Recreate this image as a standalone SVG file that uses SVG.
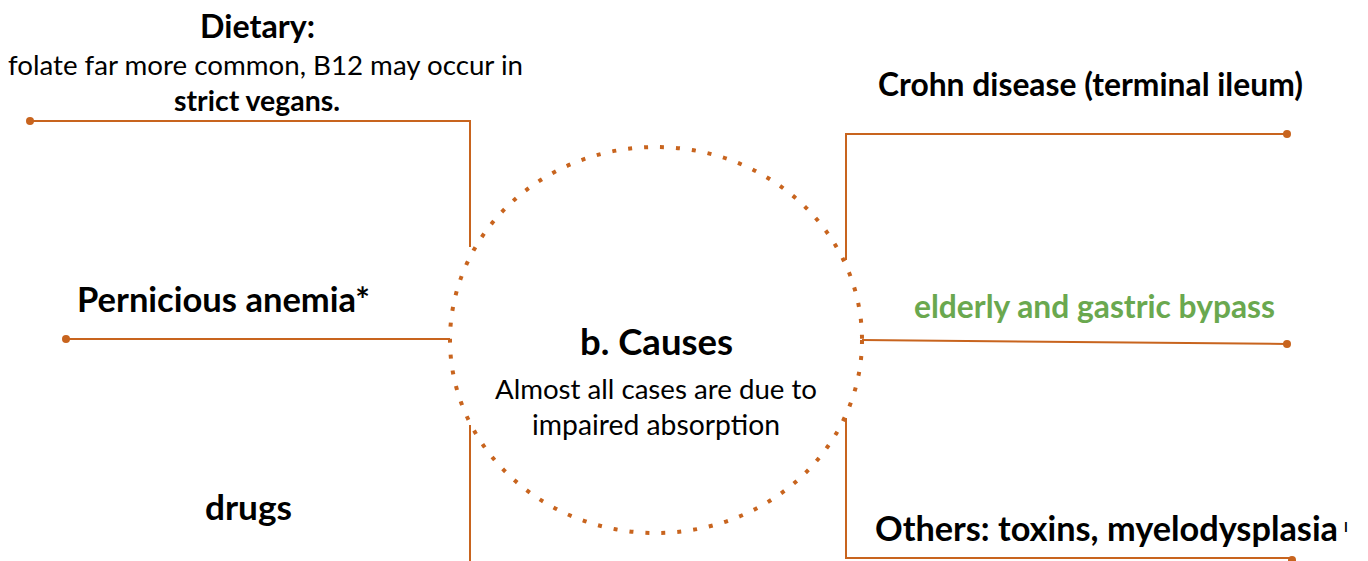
<svg xmlns="http://www.w3.org/2000/svg" width="1368" height="561" viewBox="0 0 1368 561">
<style>
.ln{fill:none;stroke:#c8641e;stroke-width:2}
.dot{fill:#c8641e}
.b{font-family:Lato,"Liberation Sans",sans-serif;font-weight:bold;fill:#000}
.r{font-family:Lato,"Liberation Sans",sans-serif;fill:#000}
</style>
<rect width="1368" height="561" fill="#fff"/>
<g id="connectors">
<path class="ln" d="M30,121 H470 V247"/>
<circle class="dot" cx="30" cy="121" r="4"/>
<path class="ln" d="M66,339 H450"/>
<circle class="dot" cx="66" cy="339" r="4"/>
<path class="ln" d="M470,425 V565 H31"/>
<circle class="dot" cx="31" cy="566" r="4"/>
<path class="ln" d="M1287,134 H846 V260"/>
<circle class="dot" cx="1287" cy="134" r="4"/>
<path class="ln" d="M862,340 L1287,344"/>
<circle class="dot" cx="1287" cy="344" r="4"/>
<path class="ln" d="M846,418 V558 H1292"/>
<circle class="dot" cx="1292" cy="560" r="4"/>
</g>
<g id="center">
<ellipse cx="656" cy="340" rx="206" ry="193" fill="none" stroke="#c8641e" stroke-width="4" stroke-dasharray="4 12"/>
<text class="b" x="580" y="355" font-size="36" textLength="153" lengthAdjust="spacingAndGlyphs">b. Causes</text>
<text class="r" x="495" y="399" font-size="27.7" textLength="322" lengthAdjust="spacingAndGlyphs">Almost all cases are due to</text>
<text class="r" x="532" y="435" font-size="28" textLength="248" lengthAdjust="spacingAndGlyphs">impaired absorption</text>
</g>
<g id="dietary">
<text class="b" x="200" y="38" font-size="32.5" textLength="115" lengthAdjust="spacingAndGlyphs">Dietary:</text>
<text class="r" x="8" y="75" font-size="27.7" textLength="515" lengthAdjust="spacingAndGlyphs">folate far more common, B12 may occur in</text>
<text class="b" x="174" y="111" font-size="28.5" textLength="166" lengthAdjust="spacingAndGlyphs">strict vegans.</text>
</g>
<g id="pernicious">
<text class="b" x="77" y="312" font-size="34" textLength="293" lengthAdjust="spacingAndGlyphs">Pernicious anemia*</text>
</g>
<g id="drugs">
<text class="b" x="205" y="520" font-size="34" textLength="87" lengthAdjust="spacingAndGlyphs">drugs</text>
</g>
<g id="crohn">
<text class="b" x="878" y="96" font-size="31.8" textLength="425" lengthAdjust="spacingAndGlyphs">Crohn disease (terminal ileum)</text>
</g>
<g id="elderly">
<text class="b" x="914" y="318" font-size="31.8" textLength="361" lengthAdjust="spacingAndGlyphs" style="fill:#6aa84f">elderly and gastric bypass</text>
</g>
<g id="others">
<text class="b" x="875" y="541" font-size="34" textLength="463" lengthAdjust="spacingAndGlyphs">Others: toxins, myelodysplasia</text>
<text class="b" x="1344" y="532" font-size="13">I</text>
</g>
</svg>
